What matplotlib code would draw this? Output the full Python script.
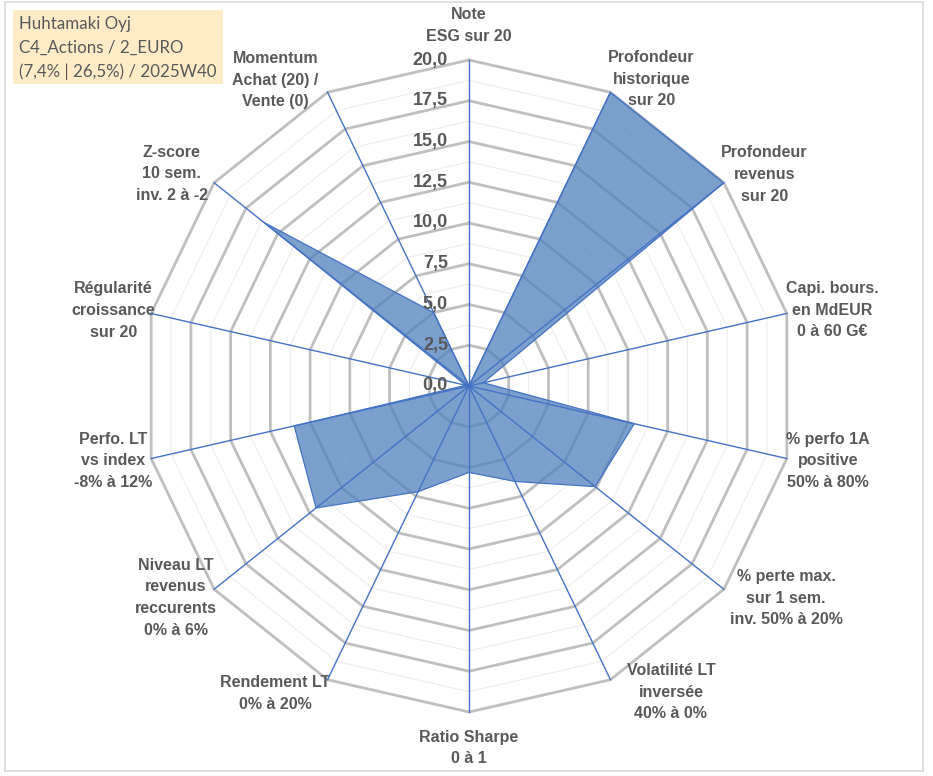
import numpy as np
import matplotlib
matplotlib.use('Agg')
from matplotlib import pyplot as plt
from matplotlib import patches

plt.rcParams['font.family'] = ['Liberation Sans', 'DejaVu Sans']

TITLE_LINES = ['Huhtamaki Oyj', 'C4_Actions / 2_EURO', '(7,4% | 26,5%) / 2025W40']

CATEGORIES = [
    'Note\nESG sur 20',
    'Profondeur\nhistorique\nsur 20',
    'Profondeur\nrevenus\nsur 20',
    'Capi. bours.\nen MdEUR\n0 à 60 G€',
    '% perfo 1A\npositive\n50% à 80%',
    '% perte max.\nsur 1 sem.\ninv. 50% à 20%',
    'Volatilité LT\ninversée\n40% à 0%',
    'Ratio Sharpe\n0 à 1',
    'Rendement LT\n0% à 20%',
    'Niveau LT\nrevenus\nreccurents\n0% à 6%',
    'Perfo. LT\nvs index\n-8% à 12%',
    'Régularité\ncroissance\nsur 20',
    'Z-score\n10 sem.\ninv. 2 à -2',
    'Momentum\nAchat (20) /\nVente (0)',
]
SCORES = [0.0, 20.0, 20.0, 0.9, 10.4, 9.9, 6.5, 5.3, 7.2, 12.0, 11.0, 0.2, 16.1, 5.0]
TICKS = [0.0, 2.5, 5.0, 7.5, 10.0, 12.5, 15.0, 17.5, 20.0]

# label centres (angle in degrees clockwise from top, radius in data units)
LABEL_POS = [(0, 22.1), (30.7, 21.9), (54.4, 22.3), (78.2, 22.75), (101.8, 22.5),
             (123.8, 23.4), (146.6, 22.5), (180, 22.2), (212.2, 22.3), (234.2, 22.2),
             (258.1, 22.3), (282.0, 22.3), (305.5, 22.4), (327.7, 22.2)]

TEXT_GREY = '#595959'
SPOKE_BLUE = '#4472C4'
FILL_BLUE = '#4F81BD'


def main():
    W, H = 933, 776
    fig = plt.figure(figsize=(W / 100, H / 100), dpi=100)

    # outer frame
    fig.patches.append(patches.Rectangle((5 / W, 1 - 771 / H), 918 / W, 769 / H,
                                         transform=fig.transFigure, fill=False,
                                         edgecolor='#D9D9D9', linewidth=1.2))

    cx, cy, rad = 469, 386, 326
    ax = fig.add_axes([(cx - rad) / W, (H - cy - rad) / H, 2 * rad / W, 2 * rad / H],
                      projection='polar')
    ax.set_theta_zero_location('N')
    ax.set_theta_direction(-1)
    ax.set_ylim(0, 20)
    ax.grid(False)
    ax.spines['polar'].set_visible(False)
    ax.set_xticks([])
    ax.set_yticks([])
    ax.patch.set_alpha(0)

    n = len(CATEGORIES)
    theta = np.linspace(0, 2 * np.pi, n, endpoint=False)
    theta_c = np.append(theta, theta[0])

    # minor and major rings
    for lev in np.arange(1.25, 20.01, 1.25):
        major = abs(lev / 2.5 - round(lev / 2.5)) < 1e-6
        ax.plot(theta_c, [lev] * (n + 1),
                color='#BFBFBF' if major else '#EDEDED',
                lw=2.0 if major else 0.8, zorder=1, clip_on=False)

    vals = np.append(SCORES, SCORES[0])
    ax.fill(theta_c, vals, color=FILL_BLUE, alpha=0.75, zorder=2, lw=0)
    ax.plot(theta_c, vals, color=SPOKE_BLUE, lw=0.9, zorder=3)

    for t in theta:
        ax.plot([t, t], [0, 20], color=SPOKE_BLUE, lw=1.0, zorder=4, clip_on=False)

    for v in TICKS:
        ax.annotate(f'{v:.1f}'.replace('.', ','), xy=(0, v), xytext=(-21, 0),
                    textcoords='offset pixels', ha='right', va='center',
                    fontsize=13, fontweight='bold', color=TEXT_GREY, zorder=5)

    for lab, (ang, r) in zip(CATEGORIES, LABEL_POS):
        ax.text(np.deg2rad(ang), r, lab, ha='center', va='center', fontsize=11.5,
                fontweight='bold', color=TEXT_GREY, linespacing=1.55,
                multialignment='center')

    # title box
    fig.patches.append(patches.Rectangle((13 / W, 1 - 84 / H), 210 / W, 74 / H,
                                         transform=fig.transFigure, facecolor='#FFEBC6',
                                         edgecolor='none'))
    for i, line in enumerate(TITLE_LINES):
        fig.text(19 / W, 1 - (24 + 24 * i) / H, line, ha='left', va='center',
                 fontsize=12.2, color=TEXT_GREY, family=['Lato', 'DejaVu Sans'])

    fig.savefig('out.png', dpi=100)
    plt.close('all')


if __name__ == '__main__':
    main()
